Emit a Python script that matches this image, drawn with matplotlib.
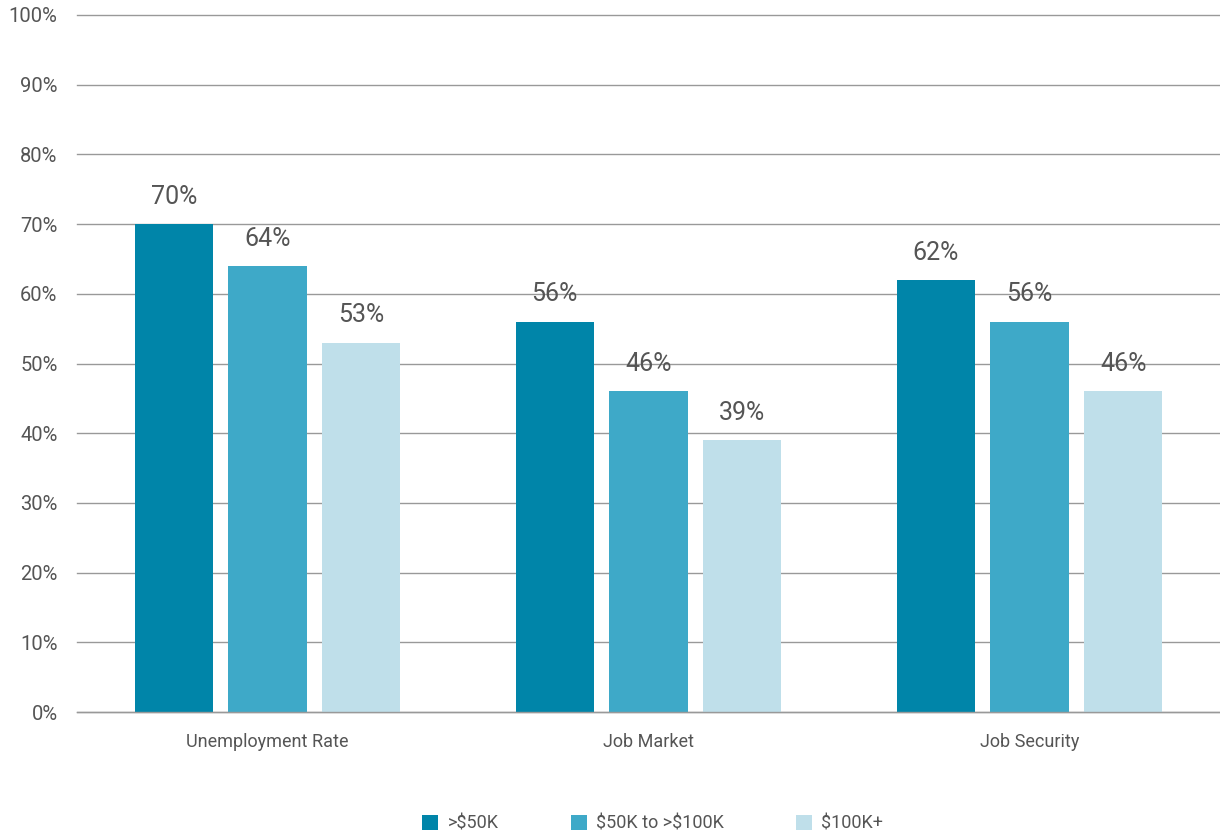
import numpy as np
import matplotlib.pyplot as plt
from matplotlib.ticker import FuncFormatter

plt.rcParams['font.family'] = ['Roboto', 'DejaVu Sans']

categories = ['Unemployment Rate', 'Job Market', 'Job Security']
series = [r'>\$50K', r'\$50K to >\$100K', r'\$100K+']
low = [70, 56, 62]
mid = [64, 46, 56]
high = [53, 39, 46]
colors = ['#0085A9', '#3EA9C8', '#BFDFEA']
txt = '#555555'

fig = plt.figure(figsize=(12.2, 8.36), dpi=100)
ax = fig.add_axes([77 / 1220, 1 - 712 / 836, 1 - 77 / 1220, (712 - 15) / 836])

x = np.arange(len(categories))
w = 0.205
off = 0.246
for i, (vals, c, name) in enumerate(zip([low, mid, high], colors, series)):
    bars = ax.bar(x + (i - 1) * off, vals, width=w, color=c, label=name, zorder=3)
    for b, v in zip(bars, vals):
        ax.text(b.get_x() + b.get_width() / 2, v + 2.2, f'{v}%', ha='center', va='bottom',
                fontsize=18, color=txt)

ax.set_xlim(-0.5, 2.5)
ax.set_ylim(0, 100)
ax.set_yticks(range(0, 101, 10))
ax.yaxis.set_major_formatter(FuncFormatter(lambda v, p: f'{int(v)}%'))
ax.grid(axis='y', color='#999999', linewidth=1, zorder=0)
for line in ax.get_ygridlines():
    line.set_clip_on(False)
ax.axhline(0, color='#999999', linewidth=1, zorder=4, clip_on=False)
for s in ax.spines.values():
    s.set_visible(False)
ax.tick_params(axis='y', length=0, pad=14, labelsize=14.5, labelcolor=txt)
ax.set_xticks(x)
ax.set_xticklabels(categories)
ax.tick_params(axis='x', length=0, pad=15, labelsize=13, labelcolor=txt)

fig.legend(loc='lower center', bbox_to_anchor=(0.535, -0.015), ncol=3, frameon=False,
           fontsize=13, labelcolor=txt, handlelength=0.9, handleheight=0.9,
           handletextpad=0.5, columnspacing=4.0)

fig.savefig('out.png', dpi=100)
